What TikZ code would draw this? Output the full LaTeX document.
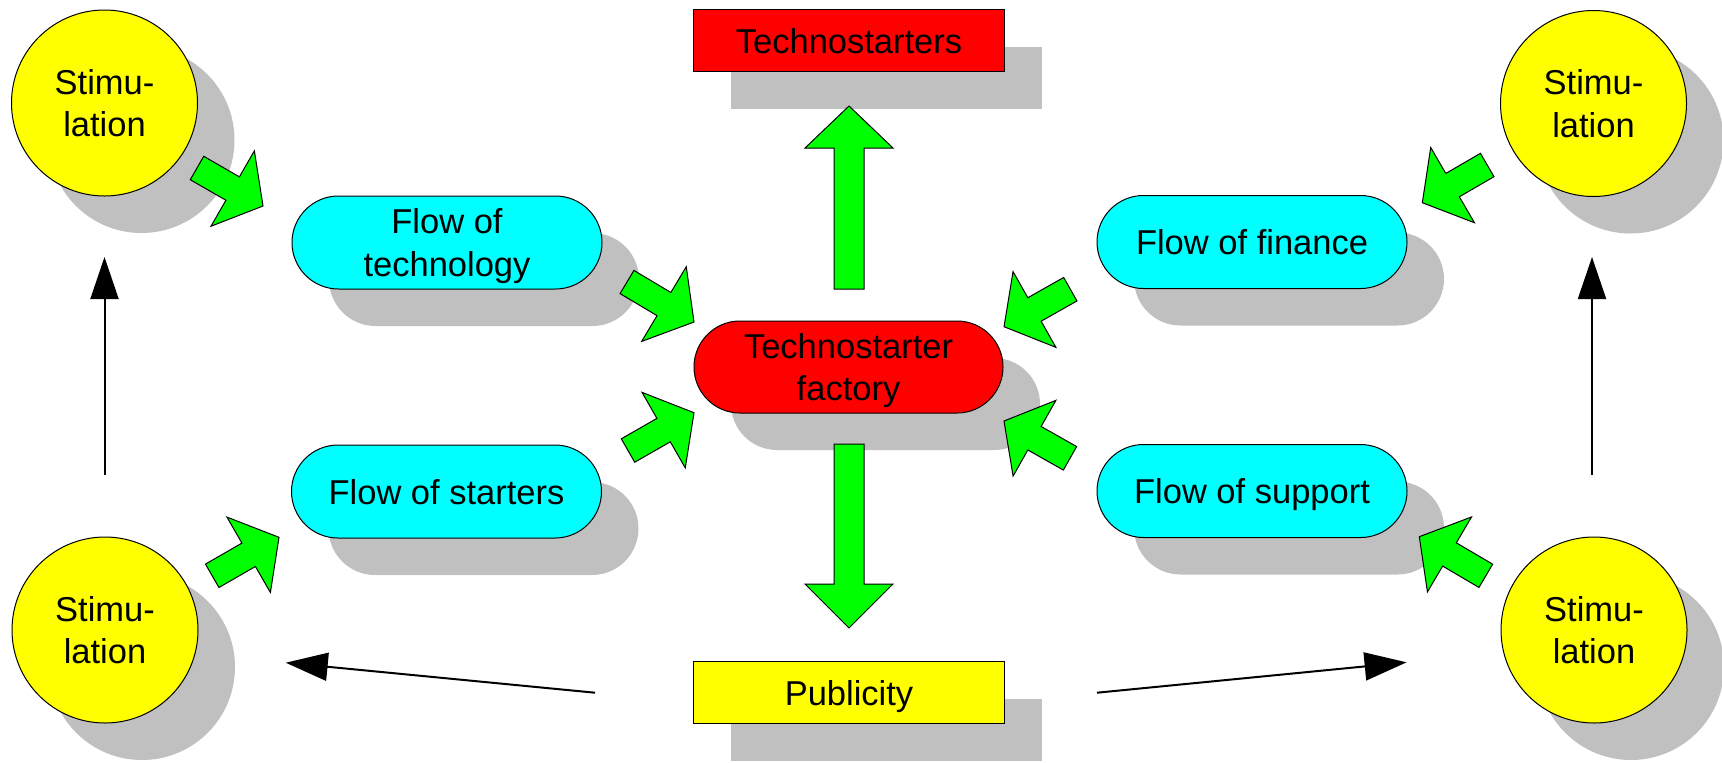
\documentclass[tikz,border=0pt]{standalone}
\usepackage{fontspec}
\setmainfont{Liberation Sans}
\usetikzlibrary{calc,shadows,arrows.meta}
\definecolor{shgray}{RGB}{192,192,192}
\definecolor{ayellow}{RGB}{255,255,0}
\definecolor{acyan}{RGB}{0,255,255}
\definecolor{ared}{RGB}{255,0,0}
\definecolor{agreen}{RGB}{0,255,0}
% block arrow: tail, tip, shaft half width, head half width, head length
\newcommand\garrow[5]{%
  \coordinate (gb) at ($(#2)!#5!(#1)$);
  \draw[greenarrow] ($(#1)!#3!90:(#2)$) -- ($(gb)!#3!90:(#2)$) -- ($(gb)!#4!90:(#2)$) -- (#2)
    -- ($(gb)!#4!-90:(#2)$) -- ($(gb)!#3!-90:(#2)$) -- ($(#1)!#3!-90:(#2)$) -- cycle;
}
\begin{document}
\begin{tikzpicture}[x=0.5pt,y=-0.5pt,
  font=\fontsize{17.25}{21.25}\selectfont,
  shadowed/.style={drop shadow={shadow xshift=18.5pt,shadow yshift=-18.5pt,fill=shgray,opacity=1}},
  stim/.style={circle,draw=black,line width=0.5pt,fill=ayellow,minimum size=93pt,inner sep=0pt,align=center,text depth=0pt,shadowed},
  flowbox/.style={rectangle,rounded corners=23.25pt,draw=black,line width=0.5pt,fill=acyan,minimum width=155pt,minimum height=46.5pt,inner sep=0pt,align=center,text depth=0pt,shadowed},
  factorybox/.style={flowbox,fill=ared,minimum width=154.5pt,minimum height=46pt,rounded corners=23pt},
  rectbox/.style={rectangle,draw=black,line width=0.5pt,minimum width=155.5pt,minimum height=31pt,inner sep=0pt,align=center,text depth=0pt,shadowed},
  greenarrow/.style={draw=black,line width=0.5pt,fill=agreen,line join=miter},
  blackarrow/.style={line width=1pt,-{Triangle[length=21pt,width=14pt]}}
]
\useasboundingbox (0,0) rectangle (1722,762);

% nodes
\node[stim] (tl) at (104.5,103) {Stimu-\\lation};
\node[stim] (bl) at (105,630) {Stimu-\\lation};
\node[stim] (tr) at (1593.5,103.5) {Stimu-\\lation};
\node[stim] (br) at (1594,630) {Stimu-\\lation};

\node[rectbox,fill=ared] (techs) at (849,40.5) {Technostarters};
\node[rectbox,fill=ayellow] (pub) at (849,692.5) {Publicity};
\node[factorybox] (fact) at (848.5,367) {Technostarter\\factory};

\node[flowbox] (ftech) at (447,242.5) {Flow of\\technology};
\node[flowbox] (fstart) at (446.5,491.5) {Flow of starters};
\node[flowbox] (ffin) at (1252,242) {Flow of finance};
\node[flowbox] (fsup) at (1252,491) {Flow of support};

% green block arrows
\coordinate (a1t) at (197,168);      \coordinate (a1h) at (263,206);
\coordinate (a2t) at (627,282);      \coordinate (a2h) at (694,322);
\coordinate (a3t) at (628,450.5);    \coordinate (a3h) at (694,412.7);
\coordinate (a4t) at (1070.3,289.2); \coordinate (a4h) at (1004,326.7);
\coordinate (a5t) at (1070,458.3);   \coordinate (a5h) at (1004,421);
\coordinate (a6t) at (212.2,575.8);  \coordinate (a6h) at (279,537.3);
\coordinate (a7t) at (1487.2,165);   \coordinate (a7h) at (1422.3,202.7);
\coordinate (a8t) at (1485.8,575.8); \coordinate (a8h) at (1419.3,536.7);
\coordinate (upt) at (849,289);      \coordinate (uph) at (849,106);
\coordinate (dnt) at (849,444);      \coordinate (dnh) at (849,628);

\garrow{a1t}{a1h}{6.75pt}{21.75pt}{17.5pt}
\garrow{a2t}{a2h}{6.75pt}{21.75pt}{17.5pt}
\garrow{a3t}{a3h}{6.75pt}{21.75pt}{17.5pt}
\garrow{a4t}{a4h}{6.75pt}{21.75pt}{17.5pt}
\garrow{a5t}{a5h}{6.75pt}{21.75pt}{17.5pt}
\garrow{a6t}{a6h}{6.75pt}{21.75pt}{17.5pt}
\garrow{a7t}{a7h}{6.75pt}{21.75pt}{17.5pt}
\garrow{a8t}{a8h}{6.75pt}{21.75pt}{17.5pt}
\garrow{upt}{uph}{7.5pt}{22pt}{21pt}
\garrow{dnt}{dnh}{7.5pt}{22pt}{22pt}

% black arrows
\coordinate (lvs) at (104.5,475);  \coordinate (lve) at (104.5,257);
\coordinate (rvs) at (1592,475);   \coordinate (rve) at (1592,257);
\coordinate (pls) at (595,692.7);  \coordinate (ple) at (285.7,662.7);
\coordinate (prs) at (1097,692.7); \coordinate (pre) at (1406.6,662.3);
\draw[blackarrow] (lvs) -- (lve);
\draw[blackarrow] (rvs) -- (rve);
\draw[blackarrow] (pls) -- (ple);
\draw[blackarrow] (prs) -- (pre);
\end{tikzpicture}
\end{document}
